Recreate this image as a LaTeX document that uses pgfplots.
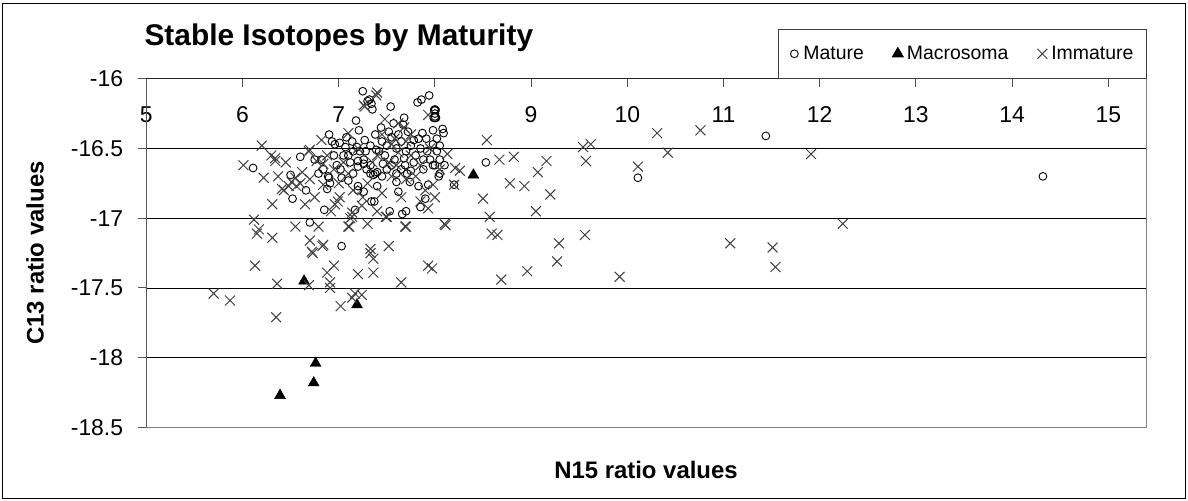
\documentclass[border=0pt]{standalone}
\usepackage{fontspec}
\setmainfont{Liberation Sans}
\setsansfont{Liberation Sans}
\usepackage{pgfplots}
\pgfplotsset{compat=1.18}
\definecolor{xgray}{HTML}{404040}
\definecolor{axgray}{HTML}{808080}
\definecolor{tickgray}{HTML}{555555}
\begin{document}
\begin{tikzpicture}[x=1bp,y=1bp]
\useasboundingbox (0,0) rectangle (1188,501);
\fill[white] (0,0) rectangle (1188,501);
\draw[line width=1.2bp] (2.5,2.5) rectangle (1185.5,497.5);
\node[anchor=west,font=\fontsize{30}{32}\selectfont\bfseries] at (141,463) {Stable Isotopes by Maturity};
\node[rotate=90,font=\fontsize{24}{26}\selectfont\bfseries] at (35,248) {C13 ratio values};
\node[font=\fontsize{24}{26}\selectfont\bfseries] at (646,31) {N15 ratio values};
\begin{axis}[
  at={(146.3bp,73.5bp)}, anchor=south west,
  scale only axis, width=1000.5bp, height=348.8bp,
  xmin=5, xmax=15.4, ymin=-18.5, ymax=-16,
  clip=false,
  axis line style={draw=none},
  xtick={5,6,7,8,9,10,11,12,13,14,15},
  xticklabels={5,6,7,8,9,10,11,12,13,14,15},
  ytick={-18.5,-18,-17.5,-17,-16.5,-16},
  yticklabels={-18.5,-18,-17.5,-17,-16.5,-16},
  xtick pos=upper, xticklabel pos=upper, ytick pos=left,
  tick align=inside,
  major tick length=8.5bp,
  tick style={tickgray, line width=1bp},
  ytick style={xshift=-8.5bp},
  xticklabel style={anchor=center, inner sep=0pt, yshift=-36bp, font=\fontsize{23}{23}\selectfont},
  yticklabel style={anchor=east, inner sep=0pt, xshift=-23bp, font=\fontsize{23}{23}\selectfont},
  ymajorgrids, major grid style={black, line width=0.9bp},
  legend columns=3,
  legend style={at={(1,1)}, anchor=south east, draw=black!75, line width=0.9bp,
    fill=white, font=\fontsize{19.5}{22}\selectfont,
    inner xsep=10bp, inner ysep=14bp,
    nodes={inner xsep=3bp, inner ysep=3bp},
    /tikz/every even column/.append style={column sep=25bp}},
  legend image code/.code={\path[draw=none,fill=none] (0bp,-6bp) (12bp,6bp); \draw[#1] plot coordinates {(6bp,0bp)};},
]
\addplot[only marks, mark=o, mark size=3.9bp, mark options={line width=0.9bp, draw=black}] coordinates {
(8.53,-16.60) (10.11,-16.71) (11.44,-16.41) (14.32,-16.70) (6.11,-16.64) (6.60,-16.56) (6.50,-16.69) (6.52,-16.86) (6.66,-16.80) (6.70,-17.03) (7.03,-17.20) (6.85,-16.94) (6.90,-16.71) (8.20,-16.76)
(7.25,-16.09) (7.32,-16.15) (7.34,-16.18) (7.30,-16.16) (7.94,-16.12) (7.86,-16.15) (7.82,-16.17) (7.54,-16.20) (7.35,-16.22) (8.00,-16.22) (8.00,-16.25) (8.00,-16.27) (7.68,-16.28) (7.18,-16.30) (7.21,-16.37) (7.57,-16.32) (7.67,-16.33) (8.08,-16.36) (8.09,-16.39) (7.98,-16.37) (7.38,-16.40) (7.87,-16.39) (7.83,-16.43) (7.91,-16.43) (8.02,-16.43) (7.98,-16.47) (8.02,-16.52) (8.05,-16.58) (7.98,-16.62) (6.90,-16.40) (6.93,-16.45) (7.01,-16.46) (6.96,-16.47) (6.82,-16.58) (6.75,-16.58)
(7.14,-16.45) (7.19,-16.49) (7.22,-16.52) (7.10,-16.55) (7.26,-16.58) (7.33,-16.62) (7.20,-16.59) (7.07,-16.49) (7.33,-16.48) (7.39,-16.51) (7.27,-16.44)
(6.79,-16.68) (6.84,-16.65) (6.89,-16.70) (6.91,-16.75) (6.88,-16.79) (7.03,-16.71) (7.10,-16.73) (7.15,-16.68) (7.20,-16.63) (7.26,-16.61) (7.29,-16.65) (7.33,-16.68) (7.36,-16.69) (7.40,-16.67) (7.20,-16.77) (7.26,-16.81) (7.17,-16.94) (7.34,-16.88) (7.20,-16.80)
(7.40,-16.77) (7.62,-16.81) (7.60,-16.74) (7.74,-16.74) (7.83,-16.77) (7.93,-16.76) (7.90,-16.86) (7.85,-16.92) (7.53,-16.95) (7.66,-16.97) (7.70,-16.95) (7.37,-16.88) (7.46,-16.61) (7.55,-16.62) (7.69,-16.62) (7.60,-16.68) (7.71,-16.68) (7.38,-16.68) (8.00,-16.62) (8.10,-16.62) (8.05,-16.68) (8.04,-16.70)
(7.45,-16.45) (7.50,-16.48) (7.55,-16.42) (7.60,-16.50) (7.65,-16.45) (7.70,-16.52) (7.75,-16.48) (7.80,-16.55) (7.85,-16.50) (7.48,-16.55) (7.58,-16.58) (7.68,-16.57) (7.78,-16.60) (7.88,-16.58) (7.42,-16.52) (7.52,-16.38) (7.62,-16.40) (7.72,-16.38) (7.78,-16.44) (7.92,-16.52) (7.44,-16.35) (7.28,-16.52) (7.12,-16.60) (7.05,-16.55) (6.98,-16.62) (7.02,-16.65) (6.95,-16.55) (7.15,-16.52) (7.08,-16.42) (8.05,-16.48) (7.95,-16.58) (7.88,-16.65) (7.75,-16.66) (7.65,-16.65) (7.50,-16.65) (7.45,-16.70)
};
\addlegendentry{Mature}
\addplot[only marks, mark=triangle*, mark size=6.3bp, mark options={fill=black, draw=black}] coordinates {
(8.40,-16.69) (6.64,-17.45) (7.19,-17.62) (6.76,-18.04) (6.74,-18.18) (6.39,-18.27)
};
\addlegendentry{Macrosoma}
\addplot[only marks, mark=x, mark size=7bp, mark options={line width=1bp, draw=xgray}] coordinates {
(8.54,-16.44) (8.67,-16.58) (8.82,-16.56) (8.78,-16.75) (8.93,-16.77) (8.50,-16.86) (8.57,-16.99) (8.59,-17.11) (8.65,-17.12) (9.07,-16.67) (9.16,-16.59) (9.20,-16.83) (9.05,-16.95) (9.29,-17.18) (9.27,-17.31) (8.96,-17.38) (8.69,-17.44) (9.54,-16.49) (9.62,-16.47) (9.57,-16.59) (9.56,-17.12) (9.92,-17.42) (10.11,-16.63) (10.31,-16.39) (10.42,-16.53) (10.76,-16.37) (11.07,-17.18) (11.51,-17.21) (11.54,-17.35) (11.91,-16.54) (12.24,-17.04) (8.21,-16.64) (8.26,-16.66) (8.20,-16.76) (8.13,-16.54) (8.11,-17.05) (8.10,-17.04)
(6.01,-16.62) (6.20,-16.48) (6.30,-16.55) (6.34,-16.59) (6.22,-16.71) (6.37,-16.70) (6.41,-16.79) (6.51,-16.74) (6.56,-16.77) (6.31,-16.90) (6.12,-17.01) (6.17,-17.08) (6.15,-17.11) (6.31,-17.14) (6.55,-17.06) (6.13,-17.34) (6.69,-16.52) (6.34,-16.57) (6.48,-16.77) (6.43,-16.80) (6.55,-16.71) (6.60,-16.75) (6.70,-16.51) (6.82,-16.44) (6.77,-16.59) (6.84,-16.61) (6.84,-16.76) (7.01,-16.85) (6.96,-16.90) (6.92,-16.95) (7.14,-16.96) (7.12,-17.00) (7.24,-16.91) (6.79,-17.06) (6.70,-17.16) (6.84,-17.19) (7.10,-17.06) (7.14,-16.99) (7.30,-17.04) (7.33,-17.22) (6.72,-17.24) (6.83,-17.20) (6.95,-17.34) (6.88,-17.39) (7.11,-17.06) (7.36,-17.29) (7.52,-17.20) (7.49,-16.99) (7.70,-17.06) (7.93,-17.34) (7.97,-17.36) (7.20,-17.40) (7.36,-17.39)
(5.70,-17.54) (5.87,-17.59) (6.36,-17.47) (6.35,-17.71) (6.73,-17.25) (6.69,-17.48) (6.91,-17.46) (6.91,-17.50) (7.02,-17.63) (7.14,-17.57) (7.24,-17.55) (7.17,-17.54) (7.33,-17.25) (7.65,-17.46) (7.50,-16.99) (7.69,-17.06) (7.93,-16.93) (7.98,-16.76) (7.40,-16.10) (7.27,-16.20) (7.39,-16.12) (7.26,-16.19) (7.93,-16.26) (7.48,-16.29) (7.10,-16.39)
(7.45,-16.40) (7.55,-16.47) (7.62,-16.53) (7.58,-16.43) (7.70,-16.45) (7.40,-16.55) (7.35,-16.60) (7.52,-16.60) (7.60,-16.62) (7.75,-16.55) (7.85,-16.62) (7.80,-16.70) (7.70,-16.72) (7.55,-16.70) (7.90,-16.80) (8.00,-16.85) (7.20,-16.50) (7.05,-16.60) (6.95,-16.65) (7.00,-16.75) (7.15,-16.80) (7.25,-16.85) (7.30,-16.75) (7.10,-16.68) (6.88,-16.55) (7.68,-16.35) (7.62,-16.32) (7.75,-16.40) (7.95,-16.50) (8.05,-16.65) (7.85,-16.88) (7.65,-16.85) (7.45,-16.82) (7.40,-16.95) (6.99,-16.88) (6.45,-16.60) (6.62,-16.67) (6.70,-16.72) (6.75,-16.85) (6.65,-16.90)
};
\addlegendentry{Immature}
\draw[axgray, line width=1.8bp] (rel axis cs:0,0) -- (rel axis cs:1,0);
\draw[axgray, line width=1.2bp] (rel axis cs:1,0) -- (rel axis cs:1,1);
\draw[black!85, line width=1.1bp] (rel axis cs:0,1) -- (rel axis cs:1,1);
\draw[tickgray, line width=1.4bp] (rel axis cs:0,0) -- (rel axis cs:0,1);
\end{axis}
\end{tikzpicture}
\end{document}
